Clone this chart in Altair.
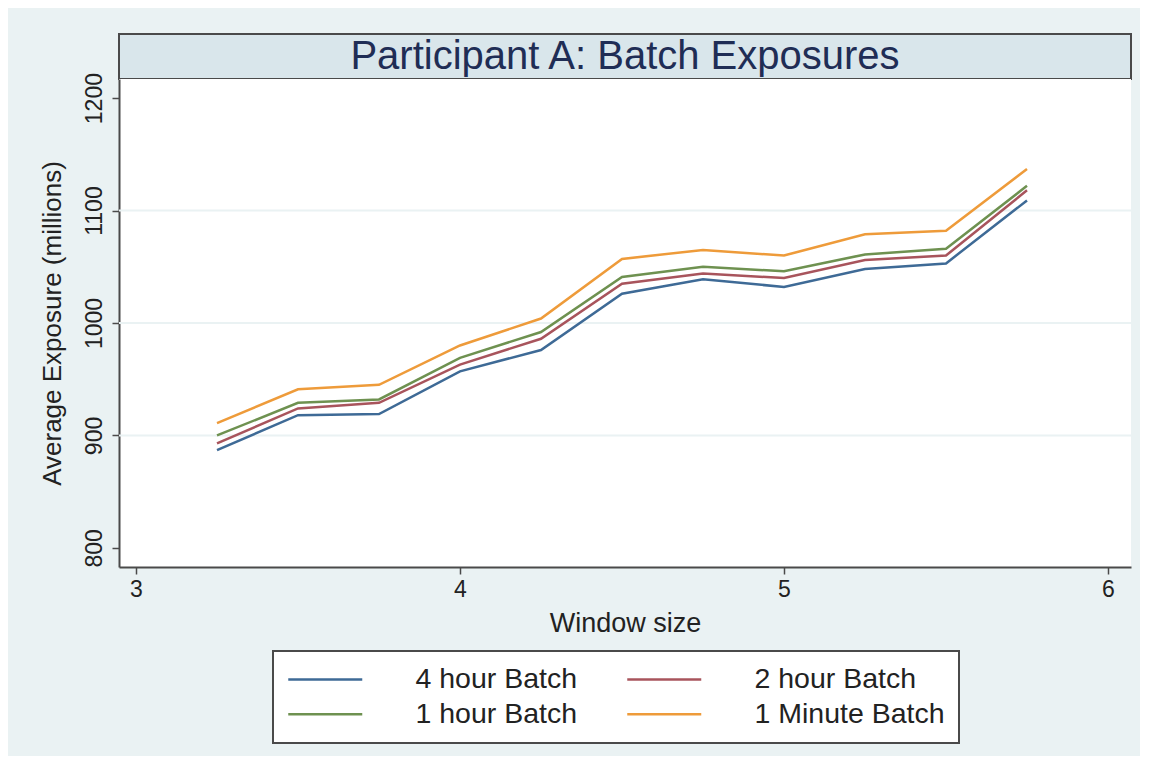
import altair as alt
import pandas as pd

# ---- data ----
window = [3.25, 3.5, 3.75, 4.0, 4.25, 4.5, 4.75, 5.0, 5.25, 5.5, 5.75]
batch_4h = [887, 918, 919, 957, 976, 1026, 1039, 1032, 1048, 1053, 1109]
batch_2h = [893, 924, 929, 963, 986, 1035, 1044, 1040, 1056, 1060, 1118]
batch_1h = [900, 929, 932, 969, 992, 1041, 1050, 1046, 1061, 1066, 1122]
batch_1m = [911, 941, 945, 980, 1004, 1057, 1065, 1060, 1079, 1082, 1137]
series_names = ["4 hour Batch", "2 hour Batch", "1 hour Batch", "1 Minute Batch"]
series_colors = ["#3E6A96", "#A8545C", "#6E9150", "#EE9B3A"]
# legend is filled column by column: this order gives rows (4h, 2h) and (1h, 1 Minute)
legend_order = ["4 hour Batch", "1 hour Batch", "2 hour Batch", "1 Minute Batch"]
x_ticks = [3, 4, 5, 6]
y_ticks = [800, 900, 1000, 1100, 1200]
grid_values = [900, 1000, 1100]
title_text = "Participant A: Batch Exposures"

FONT = "Liberation Sans, Arial, sans-serif"
W, H = 1012, 488
BG = "#EAF2F3"
DARK = "#4A4A4A"

rows = []
for name, vals in zip(series_names, [batch_4h, batch_2h, batch_1h, batch_1m]):
    for w, v in zip(window, vals):
        rows.append({"window": w, "exposure": v, "series": name})
df = pd.DataFrame(rows)

color_of = dict(zip(series_names, series_colors))
legend_colors = [color_of[n] for n in legend_order]

xscale = alt.Scale(domain=[2.9475, 6.071], nice=False, zero=False)
yscale = alt.Scale(domain=[783, 1217], nice=False, zero=False)

grid = alt.Chart(pd.DataFrame({"g": grid_values})).mark_rule(
    color=BG, strokeWidth=2
).encode(y=alt.Y("g:Q", scale=yscale))

lines = alt.Chart(df).mark_line(strokeWidth=2.5).encode(
    x=alt.X("window:Q", scale=xscale,
            axis=alt.Axis(values=x_ticks, title="Window size", format="d",
                          grid=False, tickSize=7, tickWidth=1.5, tickColor=DARK,
                          domainColor=DARK, domainWidth=2,
                          labelFontSize=23, labelPadding=4, labelColor="#222",
                          titleFontSize=27, titlePadding=9, titleFontWeight="normal",
                          titleColor="#222", labelFont=FONT, titleFont=FONT)),
    y=alt.Y("exposure:Q", scale=yscale,
            axis=alt.Axis(values=y_ticks, title="Average Exposure (millions)", format="d",
                          grid=False, tickSize=7, tickWidth=1.5, tickColor=DARK,
                          domainColor=DARK, domainWidth=2,
                          labelAngle=270, labelAlign="center", labelBaseline="bottom",
                          labelFontSize=23, labelPadding=6, labelColor="#222",
                          titleFontSize=26, titlePadding=18, titleFontWeight="normal",
                          titleColor="#222", labelFont=FONT, titleFont=FONT)),
    color=alt.Color("series:N",
                    scale=alt.Scale(domain=legend_order, range=legend_colors),
                    legend=alt.Legend(title=None, orient="none", legendX=154, legendY=617,
                                      columns=2, symbolType="M-3.25,0H15.25", symbolSize=64,
                                      symbolStrokeWidth=2.5, labelFontSize=28.5, labelFont=FONT,
                                      labelColor="#222", labelOffset=100, labelLimit=400,
                                      columnPadding=44, rowPadding=6, padding=14,
                                      fillColor="white", strokeColor=DARK)),
)

main = alt.layer(grid, lines).properties(
    width=W, height=H,
    view=alt.ViewBackground(fill="white", strokeWidth=0),
)

title_panel = alt.Chart(pd.DataFrame({"t": [title_text]})).mark_text(
    font=FONT, fontSize=40, color="#1F2D55"
).encode(text="t:N", x=alt.value(W / 2), y=alt.value(23)).properties(
    width=W, height=45,
    view=alt.ViewBackground(fill="#D9E6EB", stroke=DARK, strokeWidth=2),
)

chart = alt.vconcat(title_panel, main, spacing=0, bounds="flush").configure(
    background=BG,
    padding={"left": 31, "top": 25, "right": 8, "bottom": 12},
).configure_legend(strokeWidth=2)

chart.save("out.html", embed_options={"renderer": "svg", "actions": False})
